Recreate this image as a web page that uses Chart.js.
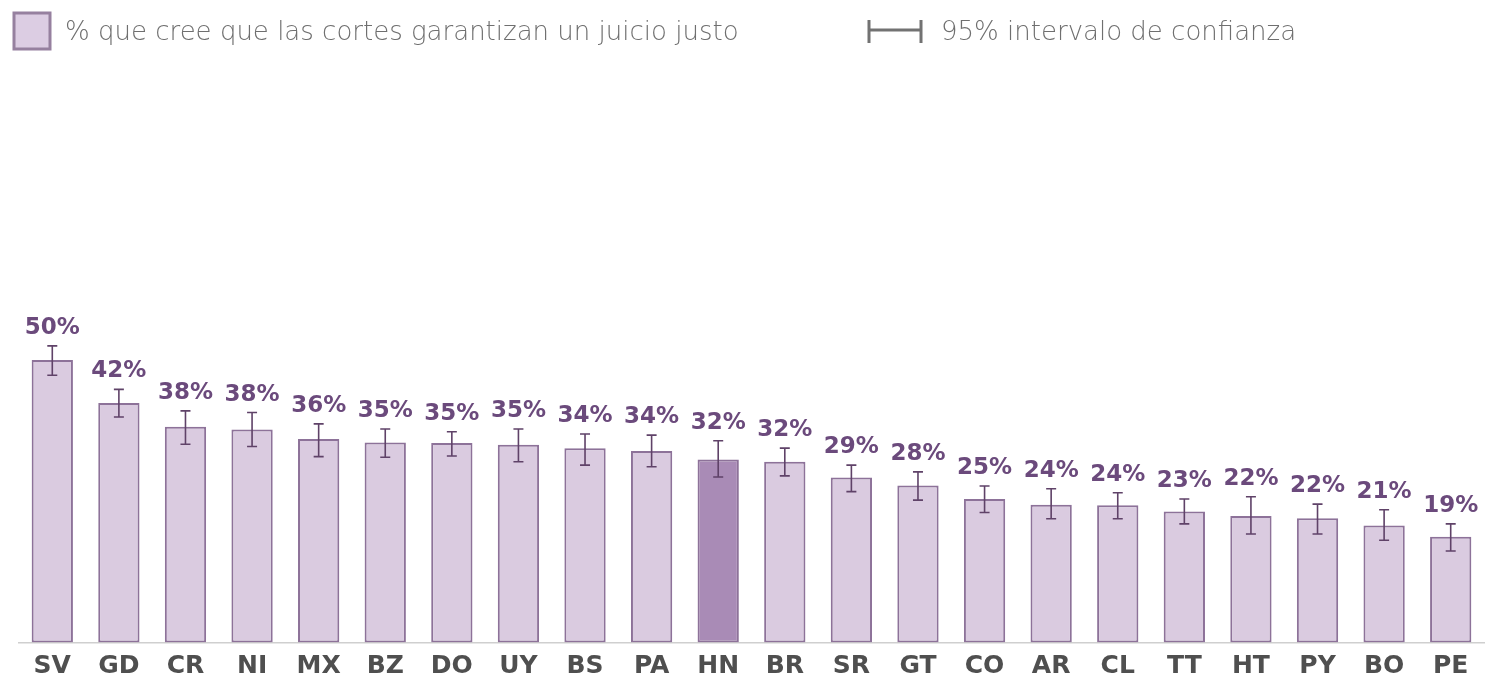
<!DOCTYPE html>
<html>
<head>
<meta charset="utf-8">
<script src="https://cdn.jsdelivr.net/npm/chart.js@4/dist/chart.umd.min.js"></script>
<style>
  html, body { margin: 0; padding: 0; background: #fff; }
  #wrap { width: 1485px; height: 682px; position: relative; }
</style>
</head>
<body>
<div id="wrap"><canvas id="grafica" width="1485" height="682"></canvas></div>
<script>
// datos
const paises = ["SV","GD","CR","NI","MX","BZ","DO","UY","BS","PA","HN","BR","SR","GT","CO","AR","CL","TT","HT","PY","BO","PE"];
const valores = [50.0,42.4,38.2,37.7,36.0,35.4,35.3,35.0,34.4,33.9,32.4,32.0,29.2,27.8,25.4,24.4,24.3,23.2,22.4,22.0,20.7,18.7];
const icBajo = [47.3,39.9,35.1,34.7,32.9,32.8,33.0,32.0,31.4,31.1,29.3,29.5,26.7,25.2,23.0,21.9,21.9,21.0,19.2,19.2,18.1,16.2];
const icAlto = [52.5,44.8,41.0,40.7,38.7,37.8,37.3,37.8,36.9,36.7,35.7,34.4,31.4,30.2,27.7,27.2,26.5,25.4,25.8,24.5,23.5,21.0];
const destacado = "HN";
const leyendaBarra = "% que cree que las cortes garantizan un juicio justo";
const leyendaIC = "95% intervalo de confianza";

const colorBarra = "#dacbe0";
const colorBorde = "#8d7299";
const colorDestacado = "#a98bb6";
const colorError = "#5f4268";
const colorEtiqueta = "#6b4a7c";

// ===============================
// PLUGIN: barras de error + etiquetas
// ===============================
const errorBars = {
  id: "errorBars",
  afterDatasetsDraw(chart) {
    const { ctx, scales: { y } } = chart;
    const meta = chart.getDatasetMeta(0);
    ctx.save();
    meta.data.forEach((bar, i) => {
      const x = bar.x;
      const yA = y.getPixelForValue(icAlto[i]);
      const yB = y.getPixelForValue(icBajo[i]);
      ctx.strokeStyle = colorError;
      ctx.lineWidth = 1.6;
      ctx.beginPath();
      ctx.moveTo(x, yA); ctx.lineTo(x, yB);
      ctx.moveTo(x - 5, yA); ctx.lineTo(x + 5, yA);
      ctx.moveTo(x - 5, yB); ctx.lineTo(x + 5, yB);
      ctx.stroke();

      ctx.fillStyle = colorEtiqueta;
      ctx.font = "bold 23px 'DejaVu Sans'";
      ctx.textAlign = "center";
      ctx.textBaseline = "alphabetic";
      ctx.fillText(Math.round(valores[i]) + "%", x, yA - 12);
    });
    ctx.restore();
  }
};

// ===============================
// PLUGIN: leyenda
// ===============================
const leyenda = {
  id: "leyenda",
  afterDraw(chart) {
    const ctx = chart.ctx;
    ctx.save();
    ctx.fillStyle = "#dccde3";
    ctx.strokeStyle = "#96809f";
    ctx.lineWidth = 3;
    ctx.fillRect(14, 13, 36, 36);
    ctx.strokeRect(14, 13, 36, 36);

    ctx.fillStyle = "#6f6f6f";
    ctx.font = "300 26px 'DejaVu Sans'";
    ctx.textAlign = "left";
    ctx.textBaseline = "middle";
    ctx.fillText(leyendaBarra, 65, 33);

    ctx.strokeStyle = "#727272";
    ctx.lineWidth = 3;
    ctx.beginPath();
    ctx.moveTo(869, 20); ctx.lineTo(869, 43);
    ctx.moveTo(921, 20); ctx.lineTo(921, 43);
    ctx.moveTo(869, 30); ctx.lineTo(921, 30);
    ctx.stroke();
    ctx.fillText(leyendaIC, 941, 33);
    ctx.restore();
  }
};

const ctx = document.getElementById("grafica").getContext("2d");

new Chart(ctx, {
  type: "bar",
  data: {
    labels: paises,
    datasets: [{
      label: leyendaBarra,
      data: valores,
      backgroundColor: paises.map(p => p === destacado ? colorDestacado : colorBarra),
      borderColor: colorBorde,
      borderWidth: 2,
      borderSkipped: false,
      barPercentage: 0.62,
      categoryPercentage: 1
    }]
  },
  options: {
    responsive: false,
    animation: false,
    devicePixelRatio: 1,
    layout: { padding: { top: 303.5, left: 19, right: 1, bottom: 2.5 } },
    plugins: {
      legend: { display: false },
      tooltip: { enabled: false }
    },
    scales: {
      x: {
        grid: { display: false, drawTicks: false },
        border: { display: true, color: "#cfcfcf", width: 1.5 },
        ticks: {
          color: "#4f4f4f",
          padding: 11,
          font: { family: "'DejaVu Sans'", weight: "bold", size: 25, lineHeight: 1.04 }
        },
        afterFit(scale) { scale.height = 37; }
      },
      y: {
        display: false,
        min: 0,
        max: 60
      }
    }
  },
  plugins: [errorBars, leyenda]
});
</script>
</body>
</html>
